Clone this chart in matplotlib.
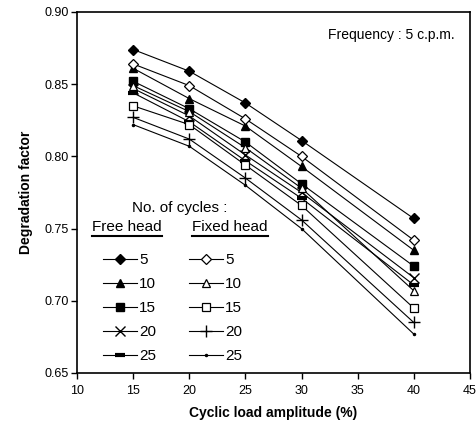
import matplotlib
matplotlib.use("Agg")
import matplotlib.pyplot as plt
from matplotlib.lines import Line2D

plt.rcParams["font.family"] = ["Liberation Sans", "DejaVu Sans"]

amplitude = [15, 20, 25, 30, 40]
cycles = ["5", "10", "15", "20", "25"]

# degradation factor, free head
free_5 = [0.874, 0.859, 0.837, 0.811, 0.757]
free_10 = [0.861, 0.840, 0.821, 0.793, 0.735]
free_15 = [0.852, 0.833, 0.810, 0.781, 0.724]
free_20 = [0.847, 0.828, 0.801, 0.775, 0.716]
free_25 = [0.844, 0.824, 0.797, 0.771, 0.711]

# degradation factor, fixed head
fixed_5 = [0.864, 0.849, 0.826, 0.800, 0.742]
fixed_10 = [0.849, 0.831, 0.806, 0.778, 0.707]
fixed_15 = [0.835, 0.822, 0.794, 0.766, 0.695]
fixed_20 = [0.827, 0.812, 0.785, 0.756, 0.685]
fixed_25 = [0.822, 0.807, 0.780, 0.750, 0.677]

free = [free_5, free_10, free_15, free_20, free_25]
fixed = [fixed_5, fixed_10, fixed_15, fixed_20, fixed_25]

free_style = [
    dict(marker="D", ms=5, mfc="black", mec="black"),
    dict(marker="^", ms=6, mfc="black", mec="black"),
    dict(marker="s", ms=5.5, mfc="black", mec="black"),
    dict(marker="x", ms=7, mfc="black", mec="black", mew=1.0),
    dict(marker="_", ms=7, mfc="black", mec="black", mew=3),
]
fixed_style = [
    dict(marker="D", ms=5, mfc="white", mec="black", mew=0.9),
    dict(marker="^", ms=6, mfc="white", mec="black", mew=0.9),
    dict(marker="s", ms=5.5, mfc="white", mec="black", mew=0.9),
    dict(marker="+", ms=9, mfc="black", mec="black", mew=1.0),
    dict(marker=".", ms=3, mfc="black", mec="black"),
]

fig = plt.figure(figsize=(4.76, 4.30), dpi=100)
ax = fig.add_axes([0.162, 0.1326, 0.825, 0.8395])

for ys, st in zip(free, free_style):
    ax.plot(amplitude, ys, color="black", lw=0.8, zorder=3, **st)
for ys, st in zip(fixed, fixed_style):
    ax.plot(amplitude, ys, color="black", lw=0.8, zorder=3, **st)

ax.set_xlim(10, 45)
ax.set_ylim(0.65, 0.90)
ax.set_xticks(range(10, 46, 5))
ax.set_yticks([0.65, 0.70, 0.75, 0.80, 0.85, 0.90])
ax.set_yticklabels([f"{v:.2f}" for v in ax.get_yticks()])
ax.tick_params(direction="out", length=4, width=1, labelsize=9, pad=2)
ax.tick_params(axis="x", pad=5)
for s in ax.spines.values():
    s.set_linewidth(1.2)

ax.set_xlabel("Cyclic load amplitude (%)", fontsize=10, fontweight="bold", labelpad=6)
ax.set_ylabel("Degradation factor", fontsize=10, fontweight="bold", labelpad=8)

ax.text(0.962, 0.936, "Frequency : 5 c.p.m.", transform=ax.transAxes,
        ha="right", va="center", fontsize=10)

# legend headers
ax.text(0.262, 0.457, "No. of cycles :", transform=ax.transAxes,
        ha="center", va="center", fontsize=11)
ax.text(0.127, 0.405, "Free head", transform=ax.transAxes,
        ha="center", va="center", fontsize=11)
ax.text(0.389, 0.405, "Fixed head", transform=ax.transAxes,
        ha="center", va="center", fontsize=11)
ax.plot([0.038, 0.216], [0.380, 0.380], color="black", lw=1.5,
        transform=ax.transAxes, clip_on=False)
ax.plot([0.292, 0.486], [0.380, 0.380], color="black", lw=1.5,
        transform=ax.transAxes, clip_on=False)

free_handles = [Line2D([], [], color="black", lw=0.8, **st) for st in free_style]
fixed_handles = [Line2D([], [], color="black", lw=0.8, **st) for st in fixed_style]
leg_kw = dict(loc="upper left", frameon=False, fontsize=11, handlelength=2.2,
              handletextpad=0.15, labelspacing=0.65, borderpad=0, borderaxespad=0)
leg1 = ax.legend(free_handles, cycles, bbox_to_anchor=(0.066, 0.331), **leg_kw)
ax.add_artist(leg1)
ax.legend(fixed_handles, cycles, bbox_to_anchor=(0.285, 0.331), **leg_kw)

fig.savefig("out.png", dpi=100)
